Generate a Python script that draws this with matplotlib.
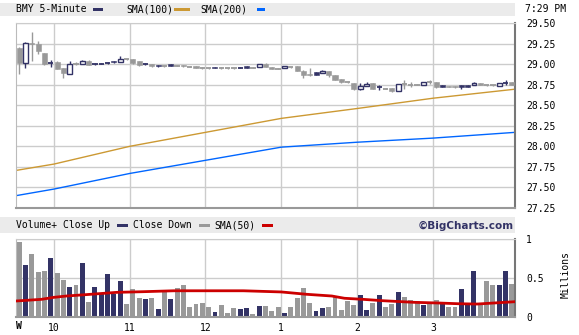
import matplotlib
matplotlib.use("Agg")
import matplotlib.pyplot as plt
from matplotlib.patches import Rectangle
import numpy as np

# BMY 5-minute bars, 9:30 -> 4:00 (one bar per 5 minutes)
opens = [29.20, 29.01, 29.26, 29.25, 29.14, 29.01, 29.02, 28.955, 28.885, 29.0,
         29.0, 29.04, 29.0, 29.007, 29.016, 29.04, 29.028, 29.058, 29.061, 29.032,
         29.0, 29.004, 28.988, 28.973, 29.004, 28.98, 28.995, 28.968, 28.979, 28.953,
         28.951, 28.962, 28.952, 28.951, 28.950, 28.955, 28.971, 28.955, 28.959, 29.004,
         28.967, 28.944, 28.95, 28.963, 28.971, 28.922, 28.88, 28.898, 28.894, 28.915,
         28.873, 28.824, 28.778, 28.776, 28.703, 28.732, 28.776, 28.72, 28.703, 28.711,
         28.671, 28.755, 28.75, 28.748, 28.752, 28.782, 28.784, 28.744, 28.735, 28.733,
         28.744, 28.75, 28.744, 28.768, 28.742, 28.74, 28.735, 28.776, 28.784]
closes = [29.01, 29.26, 29.25, 29.16, 29.00, 29.012, 28.946, 28.894, 29.004, 29.0,
          29.032, 28.991, 29.0, 29.007, 29.016, 29.02, 29.061, 29.058, 29.012, 28.988,
          29.0, 28.971, 28.975, 28.973, 28.983, 28.98, 28.971, 28.968, 28.955, 28.953,
          28.951, 28.953, 28.952, 28.951, 28.950, 28.955, 28.956, 28.955, 29.0, 28.963,
          28.946, 28.944, 28.979, 28.963, 28.922, 28.866, 28.864, 28.873, 28.922, 28.866,
          28.809, 28.78, 28.778, 28.695, 28.735, 28.763, 28.703, 28.72, 28.703, 28.671,
          28.76, 28.755, 28.75, 28.748, 28.784, 28.782, 28.72, 28.725, 28.72, 28.718,
          28.722, 28.727, 28.776, 28.744, 28.742, 28.74, 28.768, 28.776, 28.744]
highs = [29.21, 29.27, 29.39, 29.28, 29.14, 29.045, 29.04, 28.955, 29.037, 29.02,
         29.052, 29.045, 29.01, 29.015, 29.025, 29.04, 29.10, 29.065, 29.061, 29.032,
         29.01, 29.004, 28.988, 28.98, 29.004, 28.987, 28.995, 28.975, 28.979, 28.96,
         28.958, 28.965, 28.959, 28.958, 28.957, 28.962, 28.975, 28.962, 29.0, 29.01,
         28.967, 28.951, 28.979, 28.97, 28.971, 28.925, 28.95, 28.898, 28.925, 28.915,
         28.873, 28.824, 28.785, 28.776, 28.768, 28.78, 28.776, 28.744, 28.71, 28.711,
         28.76, 28.808, 28.784, 28.755, 28.784, 28.808, 28.784, 28.744, 28.735, 28.733,
         28.744, 28.75, 28.78, 28.768, 28.75, 28.747, 28.768, 28.808, 28.784]
lows = [28.88, 28.955, 29.04, 29.12, 28.99, 28.965, 28.94, 28.833, 28.885, 28.99,
        29.0, 28.99, 28.99, 29.0, 29.005, 29.015, 29.028, 29.05, 29.005, 28.98,
        28.99, 28.965, 28.97, 28.965, 28.98, 28.973, 28.968, 28.96, 28.95, 28.946,
        28.944, 28.95, 28.945, 28.944, 28.943, 28.948, 28.95, 28.948, 28.959, 28.96,
        28.944, 28.937, 28.95, 28.956, 28.918, 28.83, 28.86, 28.87, 28.89, 28.845,
        28.805, 28.776, 28.77, 28.69, 28.687, 28.732, 28.70, 28.687, 28.695, 28.665,
        28.671, 28.695, 28.72, 28.74, 28.752, 28.76, 28.715, 28.72, 28.718, 28.715,
        28.695, 28.725, 28.744, 28.74, 28.735, 28.733, 28.735, 28.744, 28.74]
# volume in millions
volumes = [0.965, 0.67, 0.81, 0.58, 0.59, 0.76, 0.57, 0.48, 0.39, 0.41,
           0.70, 0.20, 0.39, 0.30, 0.555, 0.30, 0.465, 0.17, 0.36, 0.25,
           0.235, 0.25, 0.105, 0.325, 0.235, 0.375, 0.41, 0.13, 0.17, 0.18,
           0.13, 0.07, 0.16, 0.055, 0.12, 0.105, 0.12, 0.04, 0.145, 0.145,
           0.08, 0.13, 0.055, 0.13, 0.25, 0.375, 0.18, 0.08, 0.12, 0.13,
           0.27, 0.095, 0.21, 0.16, 0.285, 0.095, 0.18, 0.285, 0.13, 0.17,
           0.325, 0.26, 0.22, 0.21, 0.16, 0.18, 0.22, 0.17, 0.13, 0.13,
           0.365, 0.17, 0.595, 0.17, 0.47, 0.42, 0.41, 0.595, 0.425]

# moving averages read at bar positions
sma_x = [0, 6, 18, 30, 42, 54, 66, 79]
sma100 = [27.707, 27.784, 28.0, 28.17, 28.34, 28.46, 28.585, 28.695]
sma200 = [27.40, 27.48, 27.67, 27.83, 27.99, 28.05, 28.10, 28.17]
vsma_x = [0, 4, 6, 8, 11, 16, 20, 25, 36, 42, 46, 50, 52, 55, 58, 63, 67, 70, 73, 79]
vsma50 = [0.209, 0.23, 0.256, 0.273, 0.29, 0.32, 0.328, 0.34, 0.34, 0.325,
          0.295, 0.273, 0.244, 0.23, 0.213, 0.192, 0.183, 0.174, 0.17, 0.2]

hour_pos = [6, 18, 30, 42, 54, 66]
hour_labels = ["10", "11", "12", "1", "2", "3"]
price_ticks = [27.25, 27.50, 27.75, 28.00, 28.25, 28.50, 28.75, 29.00, 29.25, 29.50]

navy = "#333366"
gray = "#999999"
orange = "#CC9933"
blue = "#0066FF"
red = "#CC0000"
grid = "#CCCCCC"
band = "#EBEBEB"
mono = "DejaVu Sans Mono"

W, H = 579, 335
fig = plt.figure(figsize=(W / 100, H / 100), dpi=100)


def fx(px):
    return px / W


def fy(py):
    return 1 - py / H


def ftext(px, py, s, **kw):
    kw.setdefault("family", mono)
    kw.setdefault("fontsize", 7)
    kw.setdefault("va", "center")
    fig.text(fx(px), fy(py), s, **kw)


def fbox(x0, y0, x1, y1, color):
    fig.add_artist(Rectangle((fx(x0), fy(y1)), fx(x1) - fx(x0), fy(y0) - fy(y1),
                             transform=fig.transFigure, color=color, lw=0, zorder=0))


n = len(closes)
x = np.arange(n) + 0.5
prev = [opens[0]] + closes[:-1]
up = [c > p for c, p in zip(closes, prev)]
colors = [navy if u else gray for u in up]

# price panel
ax = fig.add_axes([fx(16), fy(208), fx(515) - fx(16), fy(23) - fy(208)])
ax.set_xlim(0, n)
ax.set_ylim(27.25, 29.5)
for i in range(n):
    c = colors[i]
    ax.vlines(x[i], lows[i], highs[i], color=c, lw=1, zorder=2)
    body = closes[i] - opens[i]
    if abs(body) < 0.006:
        ax.hlines(closes[i], x[i] - 0.42, x[i] + 0.42, color=c, lw=1.3, zorder=3)
    elif body > 0:
        ax.add_patch(Rectangle((x[i] - 0.38, opens[i]), 0.76, body, facecolor="white",
                               edgecolor=c, lw=1, zorder=3))
    else:
        ax.add_patch(Rectangle((x[i] - 0.4, closes[i]), 0.8, -body, facecolor=c,
                               edgecolor=c, lw=0.4, zorder=3))
ax.plot(sma_x, sma100, color=orange, lw=1, zorder=1.5)
ax.plot(sma_x, sma200, color=blue, lw=1, zorder=1.5)
ax.set_xticks(hour_pos)
ax.set_xticklabels([])
ax.set_yticks(price_ticks)
ax.set_yticklabels(["%.2f" % t for t in price_ticks], family=mono, fontsize=7)
ax.yaxis.tick_right()
ax.tick_params(length=0)
ax.tick_params(axis="y", pad=8)
ax.grid(color=grid, lw=1, zorder=0)
ax.set_axisbelow(True)
ax.spines["left"].set_color("#BBBBBB")
ax.spines["top"].set_color(grid)
ax.spines["bottom"].set_color(gray)
ax.spines["bottom"].set_linewidth(1.5)
ax.spines["right"].set_color("#777777")
ax.spines["right"].set_linewidth(1.5)

# volume panel
vx = fig.add_axes([fx(16), fy(317.3), fx(515) - fx(16), fy(239.3) - fy(317.3)])
vx.set_xlim(0, n)
vx.set_ylim(0, 1)
vx.bar(x, volumes, width=0.78, color=colors, zorder=2)
vx.plot(vsma_x, vsma50, color=red, lw=2, zorder=3)
vx.set_xticks(hour_pos)
vx.set_xticklabels(hour_labels, family=mono, fontsize=7)
vx.set_yticks([0, 0.5, 1])
vx.set_yticklabels(["0", "0.5", "1"], family=mono, fontsize=7)
vx.yaxis.tick_right()
vx.tick_params(length=0)
vx.tick_params(axis="y", pad=8)
vx.tick_params(axis="x", pad=4)
vx.grid(color=grid, lw=1, zorder=0)
vx.set_axisbelow(True)
vx.spines["left"].set_color("#BBBBBB")
vx.spines["top"].set_color(grid)
vx.spines["bottom"].set_color(gray)
vx.spines["bottom"].set_linewidth(1.5)
vx.spines["right"].set_color("#777777")
vx.spines["right"].set_linewidth(1.5)

# header bands and legends
fbox(0, 3, 515, 16, band)
ftext(16, 9.5, "BMY 5-Minute")
fbox(93, 8, 103, 11, navy)
ftext(126, 9.5, "SMA(100)")
fbox(174, 8, 190, 11, orange)
ftext(200.5, 9.5, "SMA(200)")
fbox(257, 8, 265, 11, blue)
ftext(566, 9.5, "7:29 PM", ha="right")

fbox(0, 217, 515, 233, band)
ftext(16, 225.5, "Volume+ Close Up")
fbox(117, 224, 128, 227, navy)
ftext(133, 225.5, "Close Down")
fbox(199, 224, 210, 227, gray)
ftext(214.5, 225.5, "SMA(50)")
fbox(262, 224, 273, 227, red)
ftext(514, 225.5, "\u00a9BigCharts.com", ha="right", family="DejaVu Sans",
      fontsize=7.5, weight="bold", color=navy)

ftext(566, 275, "Millions", rotation=90, ha="center")
ftext(18.5, 326, "W", ha="center", weight="bold")

fig.savefig("out.png", dpi=100)
